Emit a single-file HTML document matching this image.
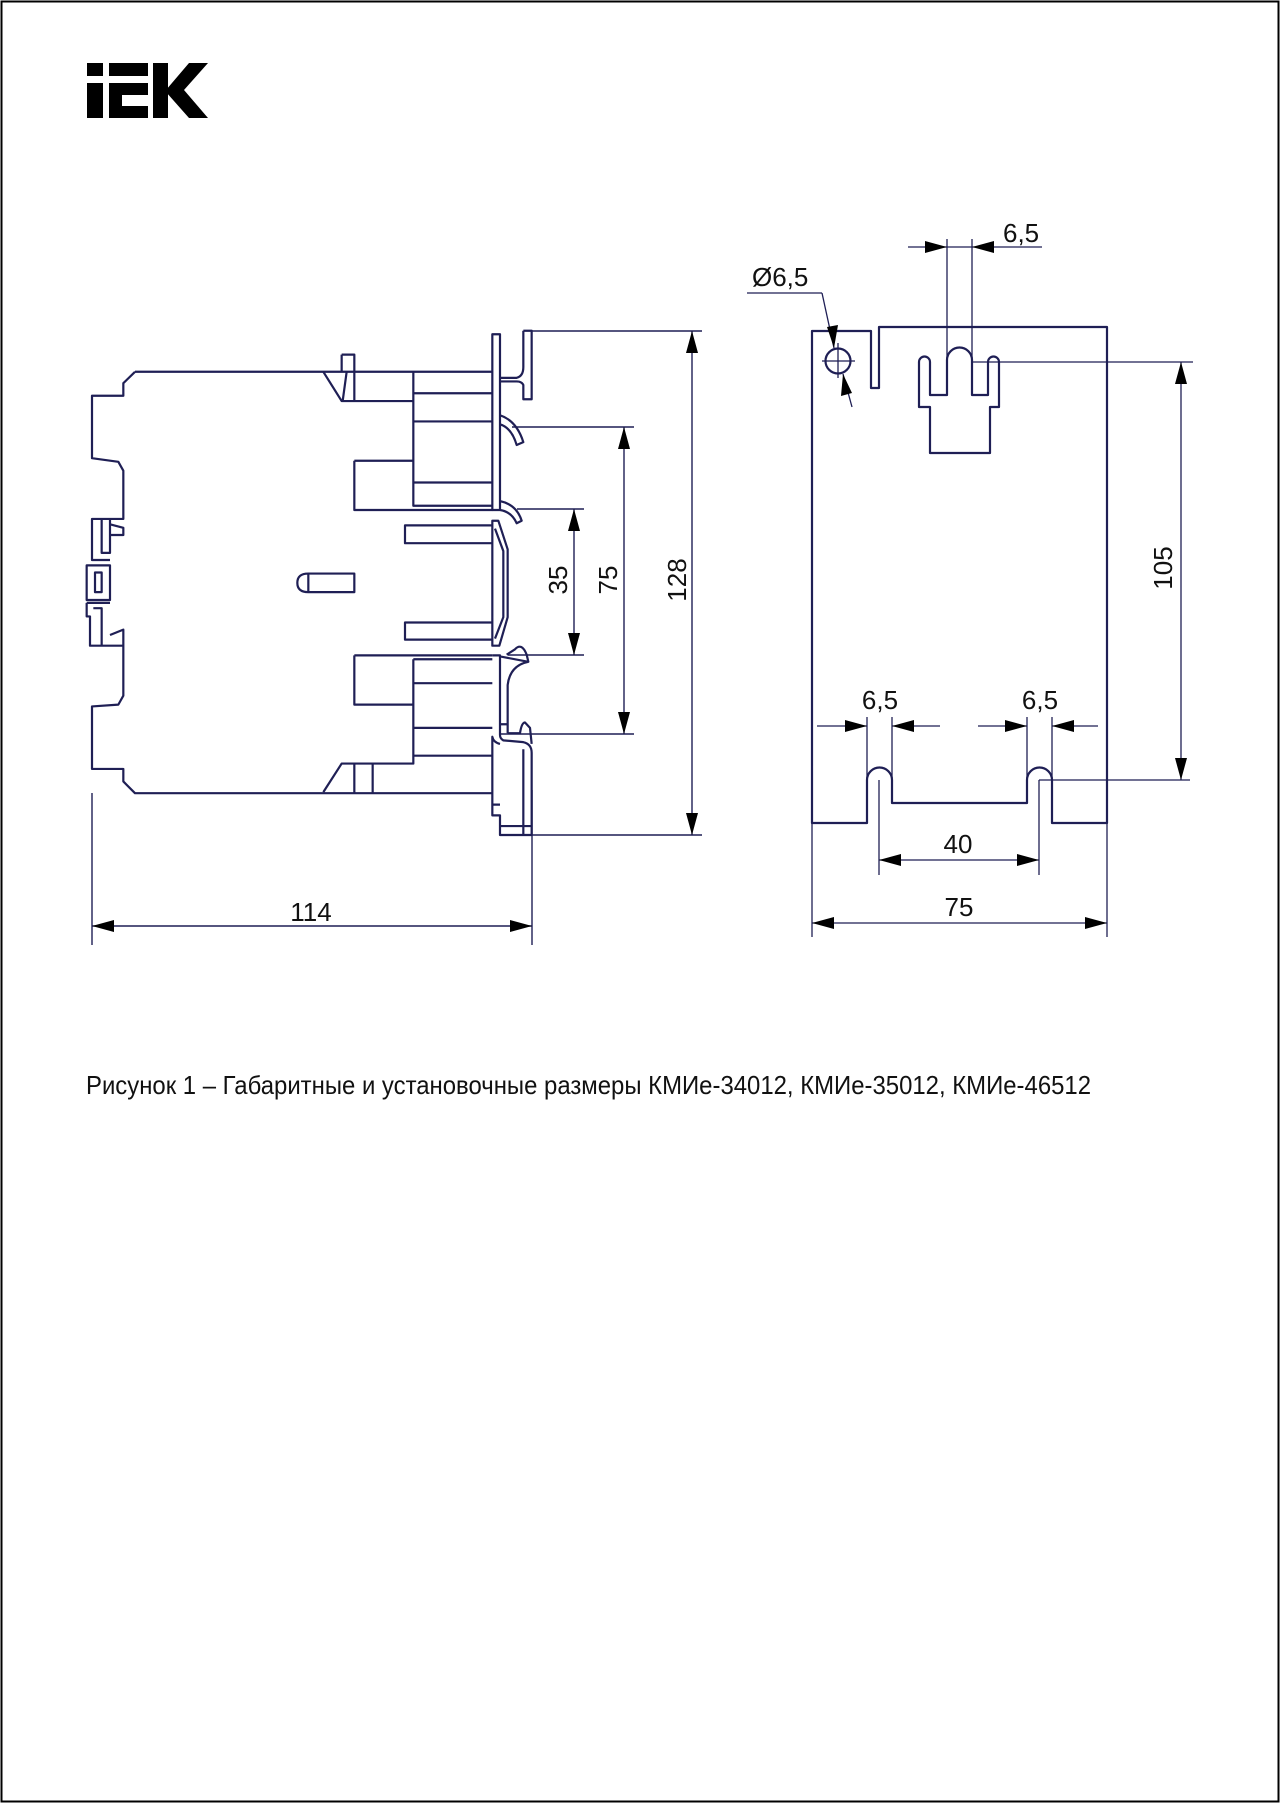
<!DOCTYPE html>
<html><head><meta charset="utf-8"><style>
html,body{margin:0;padding:0;background:#fff}
svg{display:block}
text{font-family:"Liberation Sans",sans-serif;fill:#111}
</style></head><body>
<svg width="1280" height="1803" viewBox="0 0 1280 1803" xmlns="http://www.w3.org/2000/svg">
<rect x="1.5" y="1.5" width="1277" height="1800" fill="none" stroke="#000" stroke-width="2"/>
<g fill="#000">
<rect x="87" y="63" width="16" height="13"/>
<rect x="87" y="83" width="16" height="35"/>
<rect x="109" y="63" width="39" height="13"/>
<rect x="109" y="83" width="13" height="35"/>
<rect x="109" y="83" width="39" height="12"/>
<rect x="109" y="106" width="39" height="12"/>
<rect x="153" y="63" width="15" height="55"/>
<polygon points="166,90 189,63 208,63 184,90 208,118 189,118 166,92"/>
</g>
<g transform="matrix(0.33333,0,0,0.35714,60,310)" fill="none" stroke="#1f1f55" stroke-width="2.2" stroke-linejoin="round">
<path vector-effect="non-scaling-stroke" d="M225,173 L1297,173 M225,173 L190,205 L190,240 L96,240 L96,415 L175,425 L190,450 L190,585 L96,585 L96,700 L150,700 M125,585 L125,680 L150,680 L150,585 M150,600 L190,610 L190,630 L150,630 M80,715 L150,715 L150,812 L80,812 Z M105,735 L125,735 L125,790 L105,790 Z M80,820 L150,820 M80,820 L80,858 L90,858 L90,940 L190,940 L190,895 L150,910 M100,835 L125,835 L125,940 M190,940 L190,1080 L175,1105 L96,1110 L96,1285 L190,1285 L190,1320 L225,1353 L1297,1353"/>
<path vector-effect="non-scaling-stroke" d="M790,173 L845,255 L1060,255 M845,125 L883,125 L883,255 M845,125 L845,173 M860,173 L848,255 M1060,173 L1060,548 L1297,548 M1060,233 L1297,233 M1060,312 L1297,312 M1060,483 L1297,483 M883,422 L1060,422 M883,422 L883,560 L1297,560"/>
<path vector-effect="non-scaling-stroke" d="M1297,68 L1320,68 L1320,560 L1297,560 Z M1390,58 L1415,58 L1415,250 L1390,250 L1390,210 Q1385,200 1370,200 L1320,200 M1320,190 L1370,190 Q1390,185 1390,160 L1390,58 M1320,295 Q1370,310 1390,370 L1370,378 Q1355,330 1320,320 M1320,535 Q1370,545 1385,590 L1370,597 Q1355,565 1320,560"/>
<path vector-effect="non-scaling-stroke" d="M1035,603 L1297,603 L1297,653 L1035,653 Z M1035,875 L1297,875 L1297,923 L1035,923 Z M1297,590 L1315,590 L1343,670 L1343,860 L1318,940 L1297,940 Z M1305,612 L1330,675 L1330,860 L1305,920"/>
<path vector-effect="non-scaling-stroke" d="M745,738 L883,738 L883,790 L745,790 Q712,790 712,764 Q712,738 745,738 Z M745,738 L745,790"/>
<path vector-effect="non-scaling-stroke" d="M883,967 L1297,967 M883,967 L883,1105 L1060,1105 M1060,978 L1060,1270 L845,1270 L790,1350 M1060,978 L1297,978 M1060,1045 L1297,1045 M1060,1170 L1297,1170 M1060,1248 L1297,1248 M883,1270 L883,1353 M938,1270 L938,1353"/>
<path vector-effect="non-scaling-stroke" d="M1297,967 L1320,967 L1320,1190 Q1320,1200 1330,1205 L1390,1210 Q1415,1215 1415,1240 L1415,1470 L1320,1470 L1320,1415 L1297,1415 L1297,1195 Q1300,1210 1320,1215 M1390,1230 L1390,1470 M1320,1445 L1415,1445 M1297,1385 L1320,1385 M1320,970 L1405,985 L1400,965 Q1385,930 1365,950 L1340,965 M1343,1185 L1343,1050 Q1350,995 1405,985 M1320,1160 L1340,1160 M1343,1185 L1380,1185 Q1385,1155 1395,1155 L1410,1170 L1415,1215"/>
</g>
<g stroke="#1f1f55" stroke-width="1.4" fill="none">
<line x1="532" y1="331" x2="702" y2="331"/>
<line x1="500" y1="835" x2="702" y2="835"/>
<line x1="692" y1="331" x2="692" y2="835"/>
<line x1="512" y1="427" x2="634" y2="427"/>
<line x1="500" y1="734" x2="634" y2="734"/>
<line x1="624" y1="427" x2="624" y2="734"/>
<line x1="517" y1="509" x2="584" y2="509"/>
<line x1="508" y1="655" x2="584" y2="655"/>
<line x1="574" y1="509" x2="574" y2="655"/>
<line x1="532" y1="790" x2="532" y2="945"/>
<line x1="92" y1="793" x2="92" y2="945"/>
<line x1="92" y1="926" x2="532" y2="926"/>
</g>
<g fill="#000">
<polygon points="692,331 686,353 698,353"/><polygon points="692,835 686,813 698,813"/>
<polygon points="624,427 618,449 630,449"/><polygon points="624,734 618,712 630,712"/>
<polygon points="574,509 568,531 580,531"/><polygon points="574,655 568,633 580,633"/>
<polygon points="92,926 114,920 114,932"/><polygon points="532,926 510,920 510,932"/>
</g>
<text font-size="26" text-anchor="middle" transform="translate(567,580) rotate(-90)">35</text>
<text font-size="26" text-anchor="middle" transform="translate(617,580) rotate(-90)">75</text>
<text font-size="26" text-anchor="middle" transform="translate(686,580) rotate(-90)">128</text>
<text font-size="26" x="311" y="921" text-anchor="middle">114</text>
<g fill="none" stroke="#1f1f55" stroke-width="2.2" stroke-linejoin="round">
<path d="M812,331 L871,331 L871,388 L879,388 L879,327 L1107,327 L1107,823 L1052,823 L1052,780 A12.5,12.5 0 0 0 1027,780 L1027,803 L892,803 L892,780 A12.5,12.5 0 0 0 867,780 L867,823 L812,823 Z"/>
<path d="M919,362 A5.5,5.5 0 0 1 930,362 L930,395 L947,395 L947,360 A12.5,12.5 0 0 1 972,360 L972,395 L988,395 L988,362 A5.5,5.5 0 0 1 999,362 L999,407 L990,407 L990,453 L930,453 L930,407 L919,407 Z"/>
<circle cx="838" cy="361" r="12.5"/>
</g>
<g stroke="#1f1f55" stroke-width="1.3" fill="none">
<line x1="822" y1="361" x2="855" y2="361"/><line x1="838" y1="343" x2="838" y2="378"/>
<line x1="947" y1="239" x2="947" y2="360"/><line x1="972" y1="239" x2="972" y2="360"/>
<line x1="908" y1="247" x2="1042" y2="247"/>
<line x1="747" y1="293" x2="822" y2="293"/><line x1="822" y1="293" x2="834" y2="348"/>
<line x1="852" y1="407" x2="843" y2="374"/>
<line x1="972" y1="362" x2="1193" y2="362"/><line x1="1039" y1="780" x2="1190" y2="780"/>
<line x1="1181" y1="362" x2="1181" y2="780"/>
<line x1="867" y1="717" x2="867" y2="780"/><line x1="892" y1="717" x2="892" y2="780"/>
<line x1="1027" y1="717" x2="1027" y2="780"/><line x1="1052" y1="717" x2="1052" y2="780"/>
<line x1="817" y1="726" x2="867" y2="726"/><line x1="892" y1="726" x2="940" y2="726"/>
<line x1="978" y1="726" x2="1027" y2="726"/><line x1="1052" y1="726" x2="1098" y2="726"/>
<line x1="879" y1="780" x2="879" y2="875"/><line x1="1039" y1="780" x2="1039" y2="875"/>
<line x1="879" y1="860" x2="1039" y2="860"/>
<line x1="812" y1="823" x2="812" y2="937"/><line x1="1107" y1="823" x2="1107" y2="937"/>
<line x1="812" y1="923" x2="1107" y2="923"/>
</g>
<g fill="#000">
<polygon points="947,247 925,241 925,253"/><polygon points="972,247 994,241 994,253"/>
<polygon points="834,348 827,327 838,325"/><polygon points="843,374 841,396 852,393"/>
<polygon points="1181,362 1175,384 1187,384"/><polygon points="1181,780 1175,758 1187,758"/>
<polygon points="867,726 845,720 845,732"/><polygon points="892,726 914,720 914,732"/>
<polygon points="1027,726 1005,720 1005,732"/><polygon points="1052,726 1074,720 1074,732"/>
<polygon points="879,860 901,854 901,866"/><polygon points="1039,860 1017,854 1017,866"/>
<polygon points="812,923 834,917 834,929"/><polygon points="1107,923 1085,917 1085,929"/>
</g>
<text font-size="26" x="1003" y="242">6,5</text>
<text font-size="26" x="752" y="286">Ø6,5</text>
<text font-size="26" x="880" y="709" text-anchor="middle">6,5</text>
<text font-size="26" x="1040" y="709" text-anchor="middle">6,5</text>
<text font-size="26" x="958" y="853" text-anchor="middle">40</text>
<text font-size="26" x="959" y="916" text-anchor="middle">75</text>
<text font-size="26" text-anchor="middle" transform="translate(1172,568) rotate(-90)">105</text>
<text font-size="26" x="86" y="1094" textLength="1005" lengthAdjust="spacingAndGlyphs">Рисунок 1 – Габаритные и установочные размеры КМИе-34012, КМИе-35012, КМИе-46512</text>
</svg>
</body></html>
